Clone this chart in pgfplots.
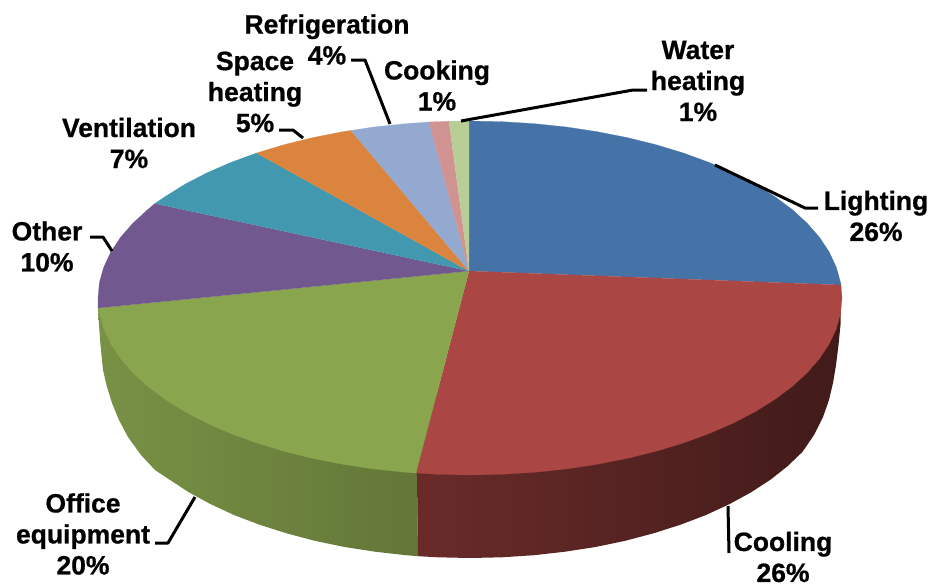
\documentclass[border=0pt]{standalone}
\usepackage{fontspec}
\setmainfont{Liberation Sans}[BoldFeatures={FakeBold=0.7}]
\usepackage{pgfplots}
\pgfplotsset{compat=1.18}
\definecolor{cLight}{HTML}{4572A7}
\definecolor{cCool}{HTML}{AA4643}
\definecolor{cOffice}{HTML}{89A54E}
\definecolor{cOther}{HTML}{71588F}
\definecolor{cVent}{HTML}{4198AF}
\definecolor{cSpace}{HTML}{DB843D}
\definecolor{cRefr}{HTML}{93A9CF}
\definecolor{cCook}{HTML}{D19392}
\definecolor{cWater}{HTML}{B9CD96}
\tikzset{
  lbl/.style={font=\fontsize{26.5}{31}\selectfont\bfseries, align=center, text=black, inner sep=0pt},
  leader/.style={draw=black, line width=3pt, line join=round},
}
\begin{document}
\begin{tikzpicture}
\path[use as bounding box] (0,0) rectangle (930pt,587pt);
\begin{axis}[
  at={(0,0)}, anchor=south west,
  scale only axis, width=930pt, height=587pt,
  xmin=0, xmax=930, ymin=0, ymax=587, y dir=reverse,
  axis lines=none, clip=false,
]
% side walls
\addplot[draw=none, left color=cOffice!88!black, right color=cOffice!72!black] coordinates {
(98,308)(99,325)(100.5,345)(103,370)(107,387)(112,403)(119,420)(128,437)(141,455)(155,470)
(169.4,479.6)(188.9,492.3)(210.5,504.1)(234,515)(259.5,524.7)(286.5,533.3)(314.8,540.8)
(344.5,547)(375,551.7)(406,555.2)(418,556.2)(416,400)};
\addplot[draw=none, left color=cCool!62!black, right color=cCool!38!black] coordinates {
(416,400)(418,556.2)(438,557.3)(470,558)(502,557.3)(534,555.2)(565,551.7)(595.5,547)
(625.2,540.8)(653.5,533.3)(680.5,524.7)(706,515)(729.5,504.1)(751.1,492.3)(770.6,479.6)
(787.8,466)(802.5,451.8)(814,435)(823,417)(829,400)(833,383)(836,365)(838.5,345)(840.5,325)(841,300)};
% top face
\addplot[fill=cLight, draw=cLight, line width=0.2pt] coordinates {
(469,271)(469,121)(502.4,121.7)(534.6,123.7)(566.3,127)(597.2,131.7)(627.2,137.6)(656,144.7)
(683.4,153)(709.1,162.4)(733,172.8)(755,184.2)(774.7,196.5)(792.2,209.5)(807.1,223.2)
(819.6,237.5)(829.3,252.2)(836.3,267.3)(840.6,282.6)(841,285)};
\addplot[fill=cCool, draw=cCool, line width=0.2pt] coordinates {
(469,271)(841,285)(842,298)(840.6,313.4)(836.3,328.7)(829.3,343.8)(819.6,358.5)(807.1,372.8)
(792.2,386.5)(774.7,399.5)(755,411.8)(733,423.2)(709.1,433.6)(683.4,443)(656,451.3)
(627.2,458.4)(597.2,464.3)(566.3,469)(534.6,472.3)(502.4,474.3)(470,475)(437.6,474.3)(416,473)};
\addplot[fill=cOffice, draw=cOffice, line width=0.2pt] coordinates {
(469,271)(416,473)(405.4,472.3)(373.7,469)(342.8,464.3)(312.8,458.4)(284,451.3)(256.6,443)
(230.9,433.6)(207,423.2)(185,411.8)(165.3,399.5)(147.8,386.5)(132.9,372.8)(120.4,358.5)
(110.7,343.8)(103.7,328.7)(99.4,313.4)(98,308)};
\addplot[fill=cOther, draw=cOther, line width=0.2pt] coordinates {
(469,271)(98,308)(98,298)(99.4,282.6)(103.7,267.3)(110.7,252.2)(120.4,237.5)(132.9,223.2)
(147.8,209.5)(155,203.5)};
\addplot[fill=cVent, draw=cVent, line width=0.2pt] coordinates {
(469,271)(155,203.5)(165.3,196.5)(185,184.2)(207,172.8)(230.9,162.4)(256.6,153)};
\addplot[fill=cSpace, draw=cSpace, line width=0.2pt] coordinates {
(469,271)(256.6,153)(284,144.7)(312.8,137.6)(342.8,131.7)(351,130.5)};
\addplot[fill=cRefr, draw=cRefr, line width=0.2pt] coordinates {
(469,271)(351,130.5)(373.7,127)(405.4,123.7)(429,122)};
\addplot[fill=cCook, draw=cCook, line width=0.2pt] coordinates {
(469,271)(429,122)(437.6,121.7)(449,121.2)};
\addplot[fill=cWater, draw=cWater, line width=0.2pt] coordinates {
(469,271)(449,121.2)(469,121)};
% leader lines
\addplot[leader] coordinates {(715,165)(805,208)(818,208)};
\addplot[leader] coordinates {(461,121)(633,90)(647,90)};
\addplot[leader] coordinates {(390,124)(365,60)(351,60)};
\addplot[leader] coordinates {(303,138)(293,130)(279,130)};
\addplot[leader] coordinates {(112,251)(103,237)(90,237)};
\addplot[leader] coordinates {(195,497)(168,543)(155,543)};
\addplot[leader] coordinates {(728,506)(729,553)};
% labels
\node[lbl] at (axis cs:876,216) {Lighting\\26\%};
\node[lbl] at (axis cs:698,81) {Water\\heating\\1\%};
\node[lbl] at (axis cs:437,85.5) {Cooking\\1\%};
\node[lbl] at (axis cs:327,39.5) {Refrigeration\\4\%};
\node[lbl] at (axis cs:255,92) {Space\\heating\\5\%};
\node[lbl] at (axis cs:129,143) {Ventilation\\7\%};
\node[lbl] at (axis cs:47,246.5) {Other\\10\%};
\node[lbl] at (axis cs:83,534) {Office\\equipment\\20\%};
\node[lbl] at (axis cs:783,557) {Cooling\\26\%};
\end{axis}
\end{tikzpicture}
\end{document}
